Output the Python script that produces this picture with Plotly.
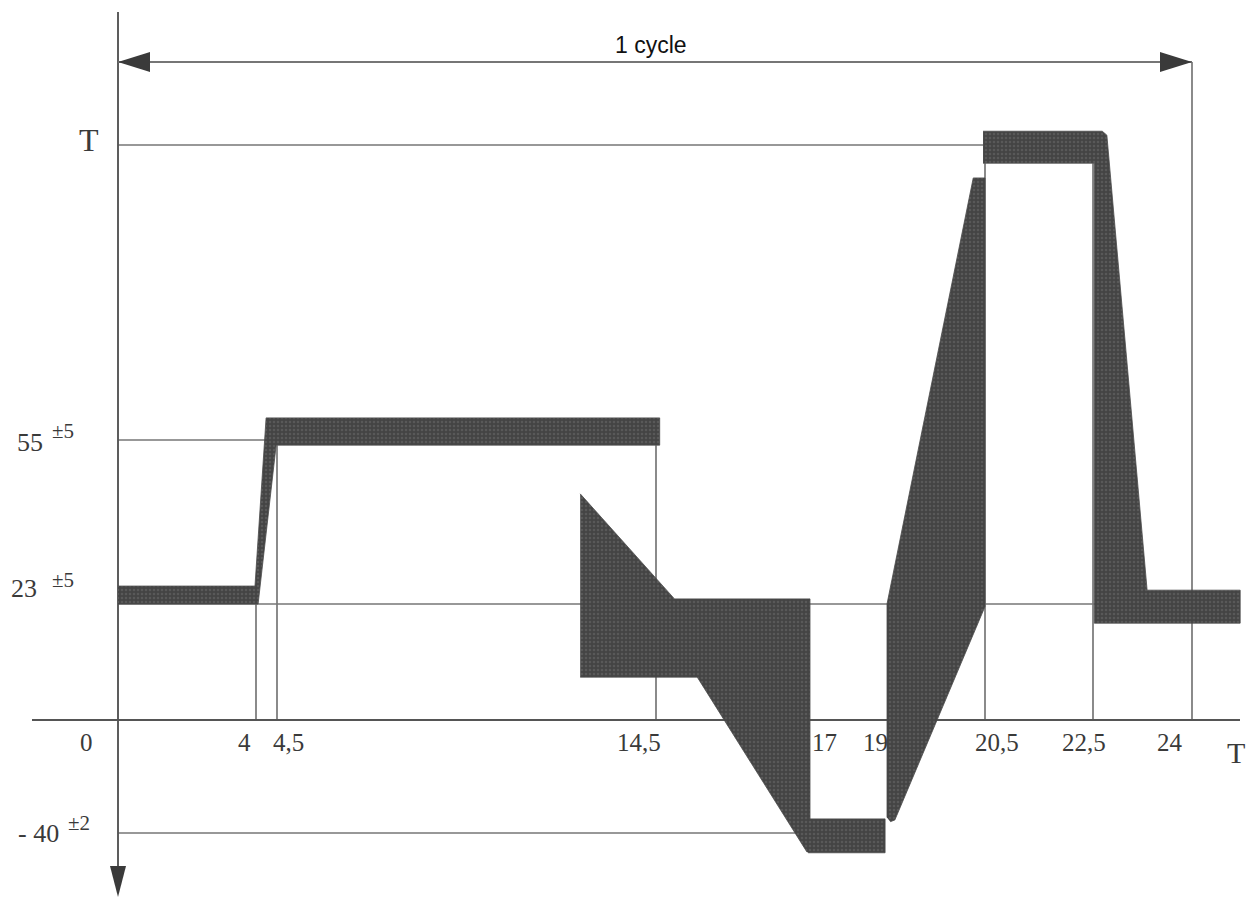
import numpy as np
import plotly.graph_objects as go

# ---------------- data (time in hours, temperature in °C) ----------------
X_TICK_HOURS = [0, 4, 4.5, 14.5, 17, 19, 20.5, 22.5, 24]
X_TICK_LABELS = ["0", "4", "4,5", "14,5", "17", "19", "20,5", "22,5", "24"]

Y_LEVELS = [-40, 0, 23, 55, 115]          # 115 stands for the symbolic level "T"
Y_LEVEL_LABELS = ["- 40", "", "23", "55", "T"]
Y_LEVEL_TOL = ["±2", "", "±5", "±5", ""]

# tolerance bands of the cycle (outline vertices: hour, temperature)
WARM_H = [0, 3.97, 4.24, 14.56, 14.56, 4.48, 4.05, 0]
WARM_T = [26.5, 26.5, 59.5, 59.5, 54, 54, 23, 23]

COOL_H = [12.5, 14.8, 17, 17, 16.95, 15.17, 12.5]
COOL_T = [44.5, 24, 24, -46.7, -46.7, 8.5, 8.5]

COLD_H = [16.97, 18.95, 18.95, 16.97]
COLD_T = [-35, -35, -47, -47]

HEAT_H = [19, 19, 20.32, 20.5, 20.5, 19.12, 19.05]
HEAT_T = [-34.5, 23, 108.3, 108.3, 22.5, -35.4, -36]

HOT_H = [20.47, 22.64, 22.71, 23.32, 24.73, 24.73, 22.52, 22.52, 20.47]
HOT_T = [117.8, 117.8, 117, 25.7, 25.7, 19.2, 19.2, 111.3, 111.3]

# reference (dimension) lines: level, hour span
LEVEL_LINES = [(115, 0, 20.47), (55, 0, 14.5), (23, 0, 24), (-40, 0, 17)]
# vertical lines: hour, from temperature
VERT_LINES = [(4, 23), (4.5, 54), (14.5, 54), (20.5, 111.3), (22.5, 111.3)]

# ---------------- schematic scale (drawing is not to scale) ----------------
X_TICK_PX = [118, 256, 277, 656, 810, 887, 985, 1093, 1192]
Y_LEVEL_PX = [833, 720, 604, 440, 145]


def interp_ext(v, xs, ys):
    v = np.atleast_1d(np.asarray(v, float))
    out = np.interp(v, xs, ys)
    lo, hi = v < xs[0], v > xs[-1]
    out[lo] = ys[0] + (v[lo] - xs[0]) * (ys[1] - ys[0]) / (xs[1] - xs[0])
    out[hi] = ys[-1] + (v[hi] - xs[-1]) * (ys[-1] - ys[-2]) / (xs[-1] - xs[-2])
    return out


def hx(h):
    return interp_ext(h, X_TICK_HOURS, X_TICK_PX)


def ty(t):
    return interp_ext(t, Y_LEVELS, Y_LEVEL_PX)


W, H = 1252, 899
LINE_C = "#767676"
AXIS_C = "#555555"
FILL_C = "#444444"
SERIF = "Liberation Serif, Times New Roman, serif"
TXT_C = "#3a3a3a"

fig = go.Figure()

x0 = float(hx(0)[0])
y0 = float(ty(0)[0])
CYCLE_Y = 62

# reference lines
for lvl, h0, h1 in LEVEL_LINES:
    fig.add_trace(go.Scatter(x=hx([h0, h1]), y=ty([lvl, lvl]), mode="lines",
                             line=dict(color=LINE_C, width=1.7), hoverinfo="skip"))
for h, t in VERT_LINES:
    fig.add_trace(go.Scatter(x=hx([h, h]), y=ty([t, 0]), mode="lines",
                             line=dict(color=LINE_C, width=1.7), hoverinfo="skip"))
x24 = float(hx(24)[0])
fig.add_trace(go.Scatter(x=[x24, x24], y=[CYCLE_Y, y0], mode="lines",
                         line=dict(color=LINE_C, width=1.7), hoverinfo="skip"))

# axes
fig.add_trace(go.Scatter(x=[32, 1240], y=[y0, y0], mode="lines",
                         line=dict(color=AXIS_C, width=1.9), hoverinfo="skip"))
fig.add_trace(go.Scatter(x=[x0, x0], y=[12, 880], mode="lines",
                         line=dict(color=AXIS_C, width=1.9), hoverinfo="skip"))
# cycle dimension line
fig.add_trace(go.Scatter(x=[x0, x24], y=[CYCLE_Y, CYCLE_Y], mode="lines",
                         line=dict(color=LINE_C, width=2), hoverinfo="skip"))

# tolerance bands (halftone-like fill)
for hs, ts in [(WARM_H, WARM_T), (COOL_H, COOL_T), (COLD_H, COLD_T),
               (HEAT_H, HEAT_T), (HOT_H, HOT_T)]:
    fig.add_trace(go.Scatter(x=hx(hs), y=ty(ts), mode="lines", fill="toself",
                             fillcolor=FILL_C,
                             fillpattern=dict(shape=".", bgcolor=FILL_C, fgcolor="#6e6e6e",
                                              size=4, solidity=0.3),
                             line=dict(color="#4a4a4a", width=0.8),
                             hoverinfo="skip"))

# arrowheads
shapes = [
    dict(type="path", path=f"M {x0} {CYCLE_Y} L {x0+32} {CYCLE_Y-10} L {x0+32} {CYCLE_Y+10} Z",
         fillcolor="#3a3a3a", line=dict(width=0), xref="x", yref="y"),
    dict(type="path", path=f"M {x24} {CYCLE_Y} L {x24-32} {CYCLE_Y-10} L {x24-32} {CYCLE_Y+10} Z",
         fillcolor="#3a3a3a", line=dict(width=0), xref="x", yref="y"),
    dict(type="path", path=f"M {x0} 897 L {x0-8} 866 L {x0+8} 866 Z",
         fillcolor="#3a3a3a", line=dict(width=0), xref="x", yref="y"),
]

ann = []
# x tick labels
X_LABEL_DX = [-32, -12, 11, -17, 14, -12, 12, -9, -22]
for h, lab, dx in zip(X_TICK_HOURS, X_TICK_LABELS, X_LABEL_DX):
    ann.append(dict(x=float(hx(h)[0]) + dx, y=y0 + 22, text=lab, showarrow=False,
                    font=dict(family=SERIF, size=25, color=TXT_C),
                    xanchor="center", yanchor="middle"))
ann.append(dict(x=1236, y=y0 + 32, text="T", showarrow=False,
                font=dict(family=SERIF, size=30, color=TXT_C)))

# y level labels
Y_LABEL_POS = [(38, 0), (0, 0), (24, -16), (30, 2), (89, -5)]
Y_TOL_POS = [(79, -10), (0, 0), (63, -24), (63, -9), (0, 0)]
for lvl, lab, tol, (lx, ldy), (tx, tdy) in zip(Y_LEVELS, Y_LEVEL_LABELS, Y_LEVEL_TOL,
                                                  Y_LABEL_POS, Y_TOL_POS):
    yp = float(ty(lvl)[0])
    if lab:
        ann.append(dict(x=lx, y=yp + ldy, text=lab, showarrow=False,
                        font=dict(family=SERIF, size=32 if lab == "T" else 26, color=TXT_C)))
    if tol:
        ann.append(dict(x=tx, y=yp + tdy, text=tol, showarrow=False,
                        font=dict(family=SERIF, size=21, color=TXT_C)))

ann.append(dict(x=651, y=45, text="1 cycle", showarrow=False,
                font=dict(family="Liberation Sans, Arial, sans-serif", size=23, color="#111")))

fig.update_layout(
    width=W, height=H, margin=dict(l=0, r=0, t=0, b=0),
    paper_bgcolor="white", plot_bgcolor="white", showlegend=False,
    xaxis=dict(range=[0, W], visible=False, fixedrange=True),
    yaxis=dict(range=[H, 0], visible=False, fixedrange=True),
    shapes=shapes, annotations=ann,
)

fig.write_html("out.html", config={"displayModeBar": False},
               post_script="document.body.style.margin='0';document.body.style.overflow='hidden';")
